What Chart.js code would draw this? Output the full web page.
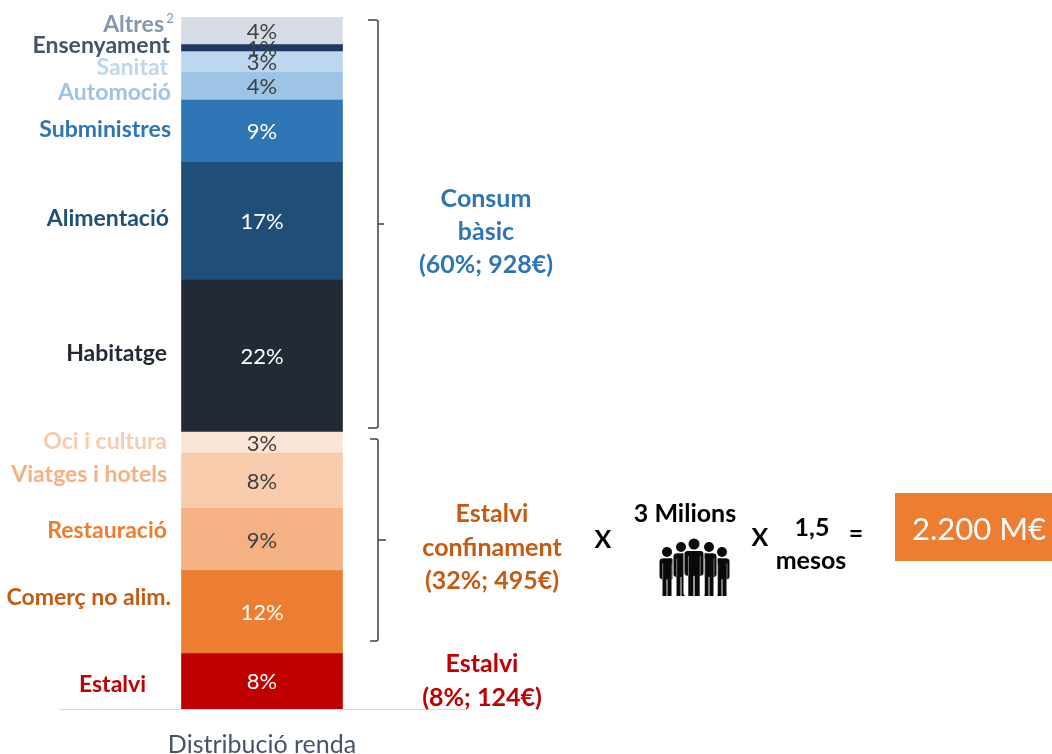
<!DOCTYPE html>
<html>
<head>
<meta charset="utf-8">
<style>
  html, body { margin: 0; padding: 0; background: #fff; }
  canvas { display: block; }
</style>
<script src="https://cdn.jsdelivr.net/npm/chart.js@4"></script>
</head>
<body>
<canvas id="chart" width="1052" height="754"></canvas>
<script>
// bottom to top, same order as the stack
const categories = ["Estalvi", "Comerç no alim.", "Restauració", "Viatges i hotels", "Oci i cultura", "Habitatge",
  "Alimentació", "Subministres", "Automoció", "Sanitat", "Ensenyament", "Altres"];
const shares = [8, 12, 9, 8, 3, 22, 17, 9, 4, 3, 1, 4];
const barColors = ["#C00000", "#ED7D31", "#F4B183", "#F8CBAD", "#FBE5D6", "#222A35",
  "#1F4E79", "#2E75B6", "#9DC3E6", "#BDD7EE", "#203864", "#D6DCE5"];
const nameColors = ["#C00000", "#C55A11", "#ED7D31", "#F4B183", "#F8CBAD", "#222A35",
  "#1F4E79", "#2E75B6", "#9DC3E6", "#BDD7EE", "#44546A", "#8497B0"];
const valueColors = ["#fff", "#fff", "#404040", "#404040", "#404040", "#fff",
  "#fff", "#fff", "#404040", "#404040", "#404040", "#404040"];
const axisLabels = ["Distribució renda"];

const FONT = "Lato, sans-serif";

// where each category name sits, [right edge, y]
const namePos = [[146, 685], [171, 598], [167, 531], [167, 475], [167, 442], [167, 354],
  [169, 219], [171, 130], [171, 93], [168, 68], [170, 46], [164, 25]];

function put(ctx, text, x, y, font, color, align) {
  ctx.font = font;
  ctx.fillStyle = color;
  ctx.textAlign = align || "center";
  ctx.textBaseline = "middle";
  ctx.fillText(text, x, y);
}

function bracket(ctx, x, top, bottom, left, tip) {
  const mid = (top + bottom) / 2;
  ctx.strokeStyle = "#404040";
  ctx.lineWidth = 1.5;
  ctx.beginPath();
  ctx.moveTo(left, top);
  ctx.lineTo(x - 2, top);
  ctx.quadraticCurveTo(x, top, x, top + 2);
  ctx.lineTo(x, bottom - 2);
  ctx.quadraticCurveTo(x, bottom, x - 2, bottom);
  ctx.lineTo(left, bottom);
  ctx.moveTo(x, mid);
  ctx.lineTo(tip, mid);
  ctx.stroke();
}

function person(ctx, cx, headY, feetY, w, r) {
  const top = headY + r + 1.5;
  const h = feetY - top;
  // white halo so the figures in front stay separate
  ctx.fillStyle = "#fff";
  ctx.beginPath();
  ctx.roundRect(cx - w / 2 - 1, top - 1, w + 2, h + 1, 3);
  ctx.fill();
  ctx.beginPath();
  ctx.arc(cx, headY, r + 1, 0, Math.PI * 2);
  ctx.fill();

  ctx.fillStyle = "#0a0a0a";
  ctx.beginPath();
  ctx.arc(cx, headY, r, 0, Math.PI * 2);
  ctx.fill();
  ctx.beginPath();
  ctx.roundRect(cx - w / 2, top, w, h * 0.55, 3);
  ctx.fill();
  ctx.fillRect(cx - w * 0.3, top, w * 0.27, h);
  ctx.fillRect(cx + w * 0.03, top, w * 0.27, h);
  // arm gaps
  ctx.fillStyle = "#777";
  ctx.fillRect(cx - w * 0.32, top + 5, 1, h * 0.55 - 5);
  ctx.fillRect(cx + w * 0.3, top + 5, 1, h * 0.55 - 5);
}

const labelsPlugin = {
  id: "labels",
  afterDatasetsDraw(chart) {
    const ctx = chart.ctx;
    ctx.save();
    categories.forEach((name, i) => {
      const bar = chart.getDatasetMeta(i).data[0];
      const mid = (bar.y + bar.base) / 2;
      put(ctx, shares[i] + "%", bar.x, mid + 1, "22px " + FONT, valueColors[i]);
      put(ctx, name, namePos[i][0], namePos[i][1], "bold 23px " + FONT, nameColors[i], "right");
    });
    put(ctx, "2", 170, 19, "13px " + FONT, nameColors[11]);

    bracket(ctx, 378, 20, 428, 368, 384);
    bracket(ctx, 378, 439, 641, 370, 386);

    const big = "bold 25px " + FONT;
    put(ctx, "Consum", 486, 199, big, "#2E75B6");
    put(ctx, "bàsic", 486, 232, big, "#2E75B6");
    put(ctx, "(60%; 928€)", 486, 265, big, "#2E75B6");
    put(ctx, "Estalvi", 492, 514, big, "#C55A11");
    put(ctx, "confinament", 492, 548, big, "#C55A11");
    put(ctx, "(32%; 495€)", 492, 581, big, "#C55A11");
    put(ctx, "Estalvi", 482, 664, big, "#C00000");
    put(ctx, "(8%; 124€)", 482, 698, big, "#C00000");

    put(ctx, "X", 603, 540, big, "#000");
    put(ctx, "3 Milions", 685, 514, big, "#000");
    put(ctx, "X", 760, 538, big, "#000");
    put(ctx, "1,5", 812, 528, big, "#000");
    put(ctx, "mesos", 811, 561, big, "#000");
    put(ctx, "=", 856, 534, big, "#000");

    person(ctx, 667, 552, 596, 15, 5);
    person(ctx, 722, 552, 596, 15, 5);
    person(ctx, 681, 547, 596, 15, 5);
    person(ctx, 709, 547, 596, 15, 5);
    person(ctx, 694, 544, 596, 19, 5.5);

    ctx.fillStyle = "#ED7D31";
    ctx.fillRect(895, 493, 157, 68);
    put(ctx, "2.200 M€", 979, 530, "31px " + FONT, "#fff");
    ctx.restore();
  }
};

new Chart(document.getElementById("chart"), {
  type: "bar",
  data: {
    labels: axisLabels,
    datasets: categories.map((name, i) => ({
      label: name,
      data: [shares[i]],
      backgroundColor: barColors[i],
      barThickness: 161,
      borderWidth: 0
    }))
  },
  options: {
    responsive: false,
    animation: false,
    layout: { padding: { left: 60, right: 588, top: 17, bottom: 0 } },
    plugins: { legend: { display: false }, tooltip: { enabled: false } },
    scales: {
      x: {
        stacked: true,
        grid: { display: false },
        border: { color: "#D9D9D9" },
        ticks: { color: "#44546A", font: { family: FONT, size: 25 }, padding: 13 },
        afterFit: (scale) => { scale.height = 45; }
      },
      y: { stacked: true, display: false, min: 0, max: 100 }
    }
  },
  plugins: [labelsPlugin]
});
</script>
</body>
</html>
